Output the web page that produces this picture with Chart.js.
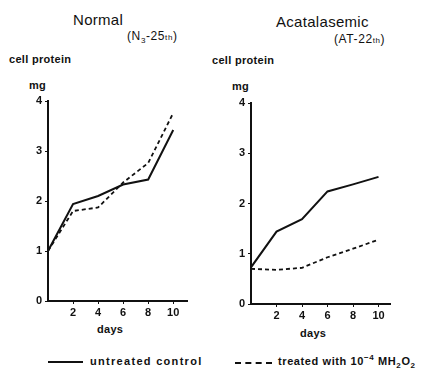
<!DOCTYPE html>
<html>
<head>
<meta charset="utf-8">
<script src="https://cdn.jsdelivr.net/npm/chart.js@4.4.1/dist/chart.umd.min.js"></script>
<style>
  html, body { margin: 0; padding: 0; background: #fff; }
  body { width: 425px; height: 379px; position: relative; overflow: hidden;
         font-family: 'Liberation Sans', Arial, sans-serif; color: #111; }
  .t { position: absolute; white-space: nowrap; line-height: 1; }
  .title { font-size: 15px; letter-spacing: 0.3px; }
  .sub { font-size: 12px; letter-spacing: 0.6px; }
  .lab { font-size: 11px; font-weight: bold; letter-spacing: 0.3px; }
  .leg { font-size: 11px; font-weight: bold; letter-spacing: 1.3px; }
  sub, sup { font-size: 8px; line-height: 0; }
  canvas { position: absolute; }
  .ln { position: absolute; height: 0; }
</style>
</head>
<body>
<!-- titles & labels -->
<div class="t title" style="left:73px; top:12px;">Normal</div>
<div class="t sub" style="left:127px; top:30px;">(N<sub>3</sub>-25<span style="font-size:8px">th</span>)</div>
<div class="t lab" style="left:9px; top:54px;">cell protein</div>
<div class="t lab" style="left:29px; top:80px;">mg</div>
<div class="t lab" style="left:97px; top:324px;">days</div>

<div class="t title" style="left:276px; top:14px;">Acatalasemic</div>
<div class="t sub" style="left:334px; top:33px;">(AT-22<span style="font-size:8px">th</span>)</div>
<div class="t lab" style="left:212px; top:55px;">cell protein</div>
<div class="t lab" style="left:232px; top:81px;">mg</div>
<div class="t lab" style="left:300px; top:328px;">days</div>

<canvas id="cNormal" width="200" height="235" style="left:0; top:90px;"></canvas>
<canvas id="cAcat" width="200" height="238" style="left:205px; top:90px;"></canvas>

<!-- legend -->
<div class="ln" style="left:48px; top:361px; width:35px; border-top:2px solid #111;"></div>
<div class="t leg" style="left:90px; top:356px;">untreated control</div>
<div class="ln" style="left:235px; top:362px; width:37px; border-top:2px dashed #111;"></div>
<div class="t leg" style="left:278px; top:356px; letter-spacing:0.6px;">treated with 10<sup>−4</sup> MH<sub>2</sub>O<sub>2</sub></div>

<script>
// ── data (mg cell protein vs days) ──
const days = [0, 2, 4, 6, 8, 10];
const xTicks = [2, 4, 6, 8, 10];
const yTicks = [0, 1, 2, 3, 4];

const normalControl = [1.0, 1.94, 2.1, 2.33, 2.43, 3.42];
const normalTreated = [1.0, 1.8, 1.87, 2.37, 2.76, 3.76];

const acatControl = [0.73, 1.44, 1.69, 2.24, 2.38, 2.53];
const acatTreated = [0.70, 0.68, 0.72, 0.93, 1.10, 1.28];

const INK = '#111';
const TICK_FONT = { size: 11, weight: 'bold', family: "'Liberation Sans', Arial, sans-serif" };

function pts(vals) { return days.map((d, i) => ({ x: d, y: vals[i] })); }

function drawPanel(id, control, treated, xMax, pad) {
  new Chart(document.getElementById(id).getContext('2d'), {
    type: 'line',
    data: {
      datasets: [
        { data: pts(control), borderColor: INK, borderWidth: 2, pointRadius: 0, tension: 0, fill: false },
        { data: pts(treated), borderColor: INK, borderWidth: 1.8, borderDash: [4, 3], pointRadius: 0, tension: 0, fill: false }
      ]
    },
    options: {
      responsive: false, animation: false, devicePixelRatio: 1,
      layout: { padding: pad },
      plugins: { legend: { display: false }, tooltip: { enabled: false } },
      scales: {
        x: {
          type: 'linear', min: 0, max: xMax,
          afterBuildTicks: s => { s.ticks = xTicks.map(v => ({ value: v })); },
          afterFit: s => { s.height = 24; },
          ticks: { color: INK, font: TICK_FONT, padding: 2, maxRotation: 0 },
          grid: { drawOnChartArea: false, drawTicks: true, tickLength: 3, color: INK },
          border: { display: true, color: INK, width: 2 }
        },
        y: {
          type: 'linear', min: 0, max: 4,
          afterBuildTicks: s => { s.ticks = yTicks.map(v => ({ value: v })); },
          afterFit: s => { s.width = 20; },
          ticks: { color: INK, font: TICK_FONT, padding: 3 },
          grid: { drawOnChartArea: false, drawTicks: true, tickLength: 3, color: INK },
          border: { display: true, color: INK, width: 2 }
        }
      }
    }
  });
}

drawPanel('cNormal', normalControl, normalTreated, 11.1, { left: 28, top: 11, right: 13, bottom: 0 });
drawPanel('cAcat', acatControl, acatTreated, 10.9, { left: 26, top: 13, right: 15, bottom: 0 });
</script>
</body>
</html>
